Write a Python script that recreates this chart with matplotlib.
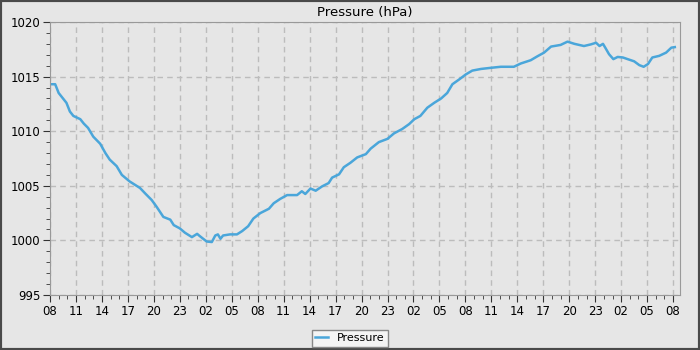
import matplotlib
matplotlib.use("Agg")
import matplotlib.pyplot as plt
import matplotlib.dates as mdates
from matplotlib.ticker import MultipleLocator
import pandas as pd

# hours after the first reading (08:00) and pressure in hPa
hours = [0, 0.6, 1.0, 1.5, 1.9, 2.3, 2.7, 3.5, 3.9, 4.4, 5.0, 5.8, 6.4, 6.9, 7.7,
         8.3, 9.2, 10.4, 11.0, 11.75, 12.3, 13.1, 13.9, 14.3, 15.0, 15.6, 16.4,
         17.0, 17.3, 17.7, 18.1, 18.7, 19.1, 19.4, 19.7, 20.0, 20.8, 21.6, 22.2,
         22.9, 23.5, 24.3, 25.3, 25.85, 26.6, 27.4, 28.55, 29.1, 29.5, 30.1, 30.7,
         31.45, 32.2, 32.6, 33.4, 33.95, 34.7, 35.5, 36.5, 37.05, 38.0, 39.0,
         39.75, 40.7, 41.5, 42.1, 42.8, 43.6, 44.4, 45.2, 45.9, 46.5, 47.3, 48.05,
         48.8, 49.8, 50.9, 52.1, 53.6, 54.4, 55.55, 56.3, 57.1, 57.9, 59.0, 59.8,
         60.6, 61.7, 62.5, 63.1, 63.5, 63.9, 64.2, 64.6, 65.1, 65.6, 66.2, 66.75,
         67.5, 68.1, 68.6, 69.1, 69.6, 70.4, 71.2, 71.8, 72.2]
pressure = [1014.3, 1014.3, 1013.5, 1013.0, 1012.6, 1011.8, 1011.4, 1011.1, 1010.7,
            1010.3, 1009.5, 1008.85, 1008.0, 1007.4, 1006.8, 1006.0, 1005.4, 1004.8,
            1004.3, 1003.7, 1003.1, 1002.15, 1001.9, 1001.4, 1001.1, 1000.7, 1000.3,
            1000.6, 1000.4, 1000.15, 999.9, 999.85, 1000.45, 1000.55, 1000.15,
            1000.45, 1000.55, 1000.55, 1000.85, 1001.3, 1002.0, 1002.5, 1002.9,
            1003.4, 1003.8, 1004.15, 1004.15, 1004.5, 1004.25, 1004.75, 1004.55,
            1004.95, 1005.25, 1005.75, 1006.05, 1006.7, 1007.1, 1007.6, 1007.9,
            1008.4, 1009.0, 1009.3, 1009.8, 1010.2, 1010.65, 1011.1, 1011.4,
            1012.15, 1012.6, 1013.0, 1013.5, 1014.3, 1014.75, 1015.2, 1015.55,
            1015.7, 1015.8, 1015.9, 1015.9, 1016.2, 1016.5, 1016.85, 1017.2,
            1017.75, 1017.9, 1018.2, 1018.0, 1017.8, 1017.95, 1018.1, 1017.8,
            1018.0, 1017.6, 1017.05, 1016.6, 1016.8, 1016.75, 1016.6, 1016.4,
            1016.05, 1015.9, 1016.15, 1016.75, 1016.9, 1017.2, 1017.65, 1017.7]

start = pd.Timestamp("2024-01-01 08:00")
times = start + pd.to_timedelta(hours, unit="h")

bg = "#e6e6e6"
fig = plt.figure(figsize=(7, 3.5), dpi=100, facecolor=bg)
fig.patches.append(plt.Rectangle((0, 0), 1, 1, transform=fig.transFigure,
                                 fill=False, edgecolor="#4a4a4a", linewidth=3))
ax = fig.add_axes([50 / 700, 55 / 350, 630 / 700, 273 / 350], facecolor=bg)

ax.plot(times, pressure, color="#4aa6da", linewidth=1.8, label="Pressure")

ax.set_xlim(start, start + pd.Timedelta(hours=72.8))
ax.set_ylim(995, 1020)
ax.yaxis.set_major_locator(MultipleLocator(5))
ax.yaxis.set_minor_locator(MultipleLocator(1))
ax.xaxis.set_major_locator(mdates.HourLocator(byhour=range(2, 24, 3)))
ax.xaxis.set_minor_locator(mdates.HourLocator())
ax.xaxis.set_major_formatter(mdates.DateFormatter("%H"))

ax.grid(True, which="major", color="#bcbcbc", linestyle=(0, (4, 3)), linewidth=1)
for s in ax.spines.values():
    s.set_color("#999999")
ax.tick_params(which="major", length=5, color="#333333", labelsize=8.5, pad=2)
ax.tick_params(which="minor", length=3, color="#333333")

ax.set_title("Pressure (hPa)", fontsize=9.5, pad=4)

leg = fig.legend(loc="lower center", bbox_to_anchor=(0.5, -0.006), fontsize=8,
                 fancybox=False, framealpha=1, facecolor="#f4f4f4",
                 edgecolor="#888888", handlelength=1.2, borderpad=0.3)

fig.savefig("out.png", dpi=100, facecolor=bg)
